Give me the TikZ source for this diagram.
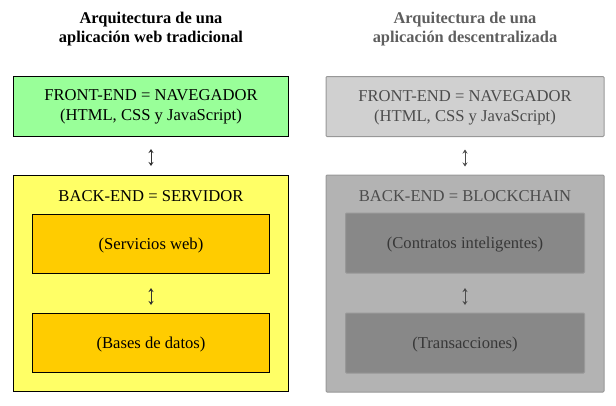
\documentclass[tikz,border=0pt]{standalone}
\usepackage{fontspec}
\setmainfont{Liberation Serif}
\usetikzlibrary{arrows.meta}
\definecolor{frontgreen}{HTML}{99FF99}
\definecolor{backyellow}{HTML}{FFFF66}
\definecolor{innerorange}{HTML}{FFCC00}
\definecolor{gfront}{HTML}{D0D0D0}
\definecolor{gback}{HTML}{B3B3B3}
\definecolor{ginner}{HTML}{888888}
\definecolor{gline}{HTML}{989898}
\definecolor{gtext}{HTML}{4C4C4C}
\definecolor{gtextdark}{HTML}{383838}
\definecolor{gtitle}{HTML}{5E5E5E}
\begin{document}
\begin{tikzpicture}[x=1pt,y=-1pt,
  titletext/.style={font=\fontsize{16.4}{19}\selectfont\bfseries,align=center,inner sep=0pt},
  boxtext/.style={font=\fontsize{16.6}{20}\selectfont,align=center,inner sep=0pt},
  linkarrow/.style={line width=0.9pt,{Stealth[length=4pt,width=5pt]}-{Stealth[length=4pt,width=5pt]}},
  colbox/.style={draw=black,line width=0.9pt,inner sep=0pt},
  gbox/.style={draw=gline,line width=1pt,inner sep=0pt,rounded corners=1pt}]
\useasboundingbox (0,0) rectangle (616,405);
% ---------------- left column ----------------
\node[titletext] (ltitle) at (151,29.5) {Arquitectura de una\\aplicación web tradicional};
\node[colbox,fill=frontgreen,minimum width=275pt,minimum height=59.5pt] (lfront) at (151,106.25) {};
\node[boxtext] (lfronttext) at ([yshift=-1pt]lfront.center) {FRONT-END = NAVEGADOR\\(HTML, CSS y JavaScript)};
\coordinate (la1t) at (151,149);
\coordinate (la1b) at (151,166);
\draw[linkarrow,draw=black!80] (la1t) -- (la1b);
\node[colbox,fill=backyellow,minimum width=275pt,minimum height=216pt] (lback) at (151,283) {};
\node[boxtext] (lbacktext) at (151,196) {BACK-END = SERVIDOR};
\node[colbox,fill=innerorange,minimum width=237pt,minimum height=59pt] (lweb) at (151,243.8) {};
\node[boxtext] (lwebtext) at ([yshift=-1.5pt]lweb.center) {(Servicios web)};
\coordinate (la2t) at (151,288);
\coordinate (la2b) at (151,305);
\draw[linkarrow,draw=black!80] (la2t) -- (la2b);
\node[colbox,fill=innerorange,minimum width=237pt,minimum height=59pt] (ldb) at (151,342.6) {};
\node[boxtext] (ldbtext) at ([yshift=-1.5pt]ldb.center) {(Bases de datos)};
% ---------------- right column ----------------
\node[titletext,text=gtitle] (rtitle) at (465,29.5) {Arquitectura de una\\aplicación descentralizada};
\node[gbox,fill=gfront,minimum width=278pt,minimum height=60pt] (rfront) at (465,106.5) {};
\node[boxtext,text=gtext] (rfronttext) at ([yshift=-1pt]rfront.center) {FRONT-END = NAVEGADOR\\(HTML, CSS y JavaScript)};
\coordinate (ra1t) at (465,149.5);
\coordinate (ra1b) at (465,166.5);
\draw[linkarrow,draw=gtext] (ra1t) -- (ra1b);
\node[gbox,fill=gback,minimum width=278pt,minimum height=217pt] (rback) at (465,283.5) {};
\node[boxtext,text=gtext] (rbacktext) at (465,196) {BACK-END = BLOCKCHAIN};
\node[gbox,fill=ginner,minimum width=239pt,minimum height=60pt] (rsmart) at (465,243) {};
\node[boxtext,text=gtextdark] (rsmarttext) at ([yshift=-1.5pt]rsmart.center) {(Contratos inteligentes)};
\coordinate (ra2t) at (465,288);
\coordinate (ra2b) at (465,305);
\draw[linkarrow,draw=gtext] (ra2t) -- (ra2b);
\node[gbox,fill=ginner,minimum width=239pt,minimum height=60pt] (rtx) at (465,343) {};
\node[boxtext,text=gtextdark] (rtxtext) at ([yshift=-1.5pt]rtx.center) {(Transacciones)};
\end{tikzpicture}
\end{document}
